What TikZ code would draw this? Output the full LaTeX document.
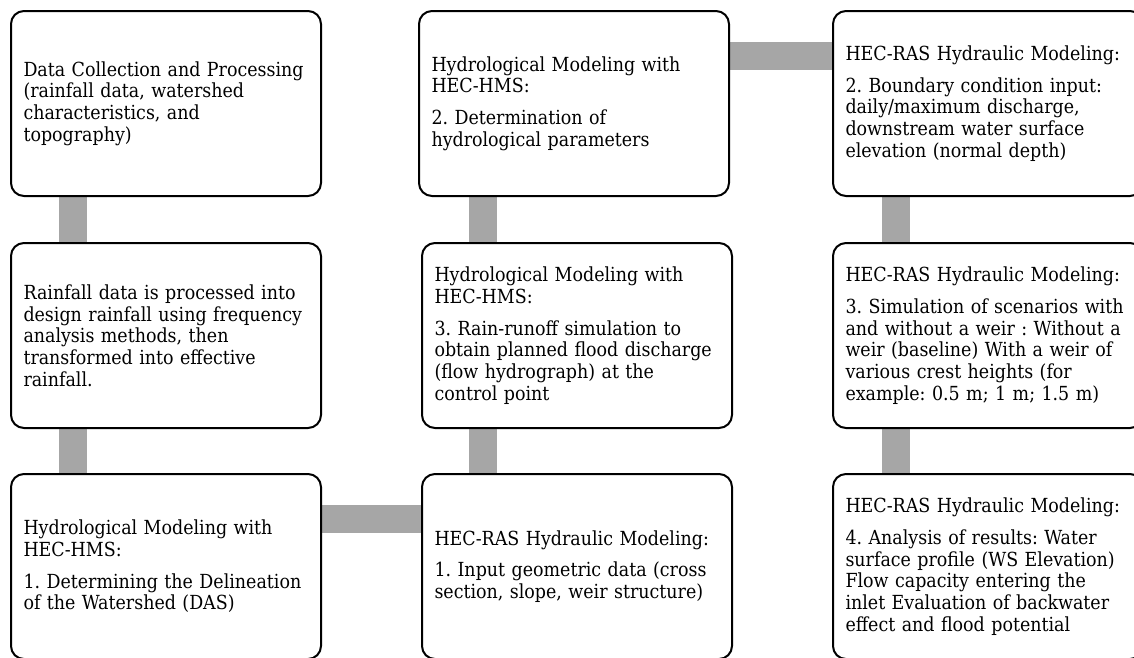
\documentclass[tikz,border=0pt]{standalone}
\usepackage{fontspec}
\setmainfont{DejaVu Serif Condensed}
\usetikzlibrary{backgrounds}
\definecolor{barGray}{HTML}{A6A6A6}
\tikzset{
  stepbox/.style={draw=black, line width=2pt, rounded corners=13pt, fill=white,
    text width=285pt, inner xsep=12.5pt, inner ysep=0pt, minimum height=185pt,
    align=left, anchor=north west, font=\fontsize{19.4pt}{21.7pt}\selectfont\frenchspacing},
  bar/.style={draw=barGray, line width=28pt, line cap=butt}
}
\begin{document}
\begin{tikzpicture}[x=1pt,y=-1pt]
\useasboundingbox (0,0) rectangle (1134,657);
\node[stepbox] (b1) at (10,10) {Data Collection and Processing\\(rainfall data, watershed\\characteristics, and\\topography)};
\node[stepbox] (b4) at (10,242) {Rainfall data is processed into\\design rainfall using frequency\\analysis methods, then\\transformed into effective\\rainfall.};
\node[stepbox] (b7) at (10,473) {Hydrological Modeling with\\HEC-HMS:\\[10pt]1. Determining the Delineation\\of the Watershed (DAS)};
\node[stepbox] (b2) at (418,10) {Hydrological Modeling with\\HEC-HMS:\\[10pt]2. Determination of\\hydrological parameters};
\node[stepbox] (b5) at (421,242) {Hydrological Modeling with\\HEC-HMS:\\[10pt]3. Rain-runoff simulation to\\obtain planned flood discharge\\(flow hydrograph) at the\\control point};
\node[stepbox] (b8) at (421,473) {HEC-RAS Hydraulic Modeling:\\[10pt]1. Input geometric data (cross\\section, slope, weir structure)};
\node[stepbox] (b3) at (832,10) {HEC-RAS Hydraulic Modeling:\\[10pt]2. Boundary condition input:\\daily/maximum discharge,\\downstream water surface\\elevation (normal depth)};
\node[stepbox] (b6) at (832,242) {HEC-RAS Hydraulic Modeling:\\[10pt]3. Simulation of scenarios with\\and without a weir : Without a\\weir (baseline) With a weir of\\various crest heights (for\\example: 0.5 m; 1 m; 1.5 m)};
\node[stepbox] (b9) at (832,473) {HEC-RAS Hydraulic Modeling:\\[10pt]4. Analysis of results: Water\\surface profile (WS Elevation)\\Flow capacity entering the\\inlet Evaluation of backwater\\effect and flood potential};
\begin{scope}[on background layer]
\draw[bar] ([xshift=63pt]b1.south west) -- ([xshift=63pt]b4.north west);
\draw[bar] ([xshift=63pt]b4.south west) -- ([xshift=63pt]b7.north west);
\draw[bar] ([xshift=65pt]b2.south west) -- ([xshift=62pt]b5.north west);
\draw[bar] ([xshift=62pt]b5.south west) -- ([xshift=62pt]b8.north west);
\draw[bar] ([xshift=63.5pt]b3.south west) -- ([xshift=63.5pt]b6.north west);
\draw[bar] ([xshift=63.5pt]b6.south west) -- ([xshift=63.5pt]b9.north west);
\draw[bar] ([yshift=-45.5pt]b2.north east) -- ([yshift=-45.5pt]b3.north west);
\draw[bar] ([yshift=-46pt]b7.north east) -- ([yshift=-46pt]b8.north west);
\end{scope}
\end{tikzpicture}
\end{document}
